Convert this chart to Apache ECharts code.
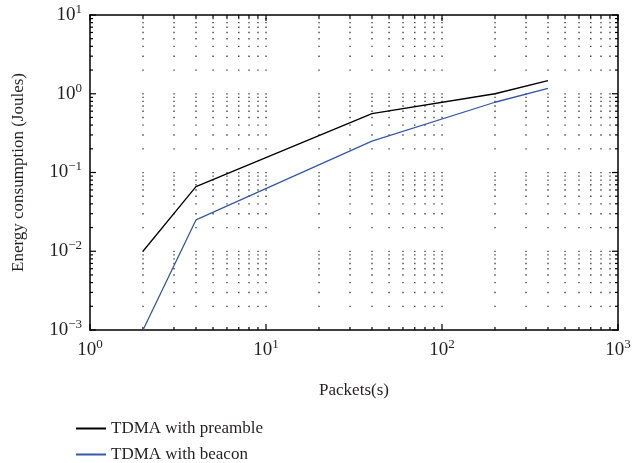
<!DOCTYPE html>
<html>
<head>
<meta charset="utf-8">
<script src="https://cdn.jsdelivr.net/npm/echarts@6/dist/echarts.min.js"></script>
<style>
  html, body { margin: 0; padding: 0; background: #fff; }
  #chart { width: 637px; height: 463px; }
</style>
</head>
<body>
<div id="chart"></div>
<script>
const packets = [2, 4, 40, 200, 400];
const preamble = [0.01, 0.066, 0.56, 1.0, 1.47];
const beacon = [0.001, 0.025, 0.25, 0.78, 1.17];
const seriesNames = ['TDMA with preamble', 'TDMA with beacon'];
const seriesColors = ['#000000', '#3558a8'];

// grid positions on the log axes (1..9 in each decade)
const xGrid = [];
for (let d = 1; d <= 100; d *= 10) for (let k = 1; k <= 9; k++) xGrid.push(k * d);
xGrid.push(1000);
const yGrid = [];
for (let d = 0.001; d <= 1.5; d *= 10) for (let k = 1; k <= 9; k++) yGrid.push(+(k * d).toPrecision(3));
yGrid.push(10);

const font = '"Liberation Serif", "DejaVu Serif", serif';
const textColor = '#231f20';
const X_MIN = 1, X_MAX = 1000, Y_MIN = 0.001, Y_MAX = 10;

const isMajor = v => Math.abs(Math.log10(v) - Math.round(Math.log10(v))) < 1e-6;

const powLabel = v => {
    const e = Math.round(Math.log10(v));
    return '10{s|' + (e < 0 ? '\u2212' + (-e) : e) + '}';
};
const richLabel = {
    s: { fontSize: 13, fontFamily: font, color: textColor, verticalAlign: 'top', padding: [0, 0, 11, 0] }
};

const chart = echarts.init(document.getElementById('chart'));

const dotStyle = { fill: '#000', opacity: 0.8 };

// vertical grid dots + ticks on bottom / top edges
const renderX = (params, api) => {
    const x = api.value(0);
    const children = [];
    if (x > X_MIN && x < X_MAX) {
        yGrid.forEach(y => {
            if (y <= Y_MIN || y >= Y_MAX) return;
            const p = api.coord([x, y]);
            children.push({ type: 'rect', shape: { x: p[0] - 0.6, y: p[1] - 0.6, width: 1.3, height: 1.3 }, style: dotStyle });
        });
    }
    const len = isMajor(x) ? 6 : 3;
    const b = api.coord([x, Y_MIN]);
    const t = api.coord([x, Y_MAX]);
    children.push({ type: 'line', shape: { x1: b[0], y1: b[1], x2: b[0], y2: b[1] - len }, style: { stroke: '#000', lineWidth: 1.2 } });
    children.push({ type: 'line', shape: { x1: t[0], y1: t[1], x2: t[0], y2: t[1] + len }, style: { stroke: '#000', lineWidth: 1.2 } });
    return { type: 'group', children };
};

// ticks on left / right edges
const renderY = (params, api) => {
    const y = api.value(1);
    const len = isMajor(y) ? 6 : 3;
    const l = api.coord([X_MIN, y]);
    const r = api.coord([X_MAX, y]);
    return {
        type: 'group',
        children: [
            { type: 'line', shape: { x1: l[0], y1: l[1], x2: l[0] + len, y2: l[1] }, style: { stroke: '#000', lineWidth: 1.2 } },
            { type: 'line', shape: { x1: r[0], y1: r[1], x2: r[0] - len, y2: r[1] }, style: { stroke: '#000', lineWidth: 1.2 } }
        ]
    };
};

const boxAxis = {
    axisLine: { show: true, lineStyle: { color: '#000', width: 1.5 } },
    axisTick: { show: false },
    splitLine: { show: false }
};

chart.setOption({
    animation: false,
    backgroundColor: '#fff',
    grid: { left: 90, right: 19, top: 15, bottom: 133 },
    legend: {
        data: seriesNames,
        orient: 'vertical',
        left: 71,
        top: 415,
        height: 50,
        itemWidth: 30,
        itemHeight: 2,
        itemGap: 9,
        icon: 'rect',
        textStyle: { fontFamily: font, fontSize: 17, color: textColor }
    },
    xAxis: [{
        type: 'log',
        logBase: 10,
        min: X_MIN,
        max: X_MAX,
        name: 'Packets(s)',
        nameLocation: 'middle',
        nameGap: 52,
        nameTextStyle: { fontFamily: font, fontSize: 17, color: textColor },
        axisLabel: { formatter: powLabel, rich: richLabel, fontFamily: font, fontSize: 19, color: textColor, margin: 8 },
        ...boxAxis
    }, {
        type: 'log', logBase: 10, min: X_MIN, max: X_MAX, position: 'top',
        axisLabel: { show: false }, ...boxAxis
    }],
    yAxis: [{
        type: 'log',
        logBase: 10,
        min: Y_MIN,
        max: Y_MAX,
        name: 'Energy consumption (Joules)',
        nameLocation: 'middle',
        nameGap: 63,
        nameTextStyle: { fontFamily: font, fontSize: 17, color: textColor },
        axisLabel: { formatter: powLabel, rich: richLabel, fontFamily: font, fontSize: 19, color: textColor, margin: 8 },
        ...boxAxis
    }, {
        type: 'log', logBase: 10, min: Y_MIN, max: Y_MAX, position: 'right',
        axisLabel: { show: false }, ...boxAxis
    }],
    series: [
        {
            type: 'custom',
            silent: true,
            renderItem: renderX,
            data: xGrid.map(x => [x, 1]),
            z: 1
        },
        {
            type: 'custom',
            silent: true,
            renderItem: renderY,
            data: yGrid.map(y => [10, y]),
            z: 1
        },
        ...seriesNames.map((name, i) => ({
            name,
            type: 'line',
            data: packets.map((p, j) => [p, [preamble, beacon][i][j]]),
            showSymbol: false,
            symbol: 'none',
            color: seriesColors[i],
            lineStyle: { color: seriesColors[i], width: 1.3 },
            z: 3
        }))
    ]
});
</script>
</body>
</html>
